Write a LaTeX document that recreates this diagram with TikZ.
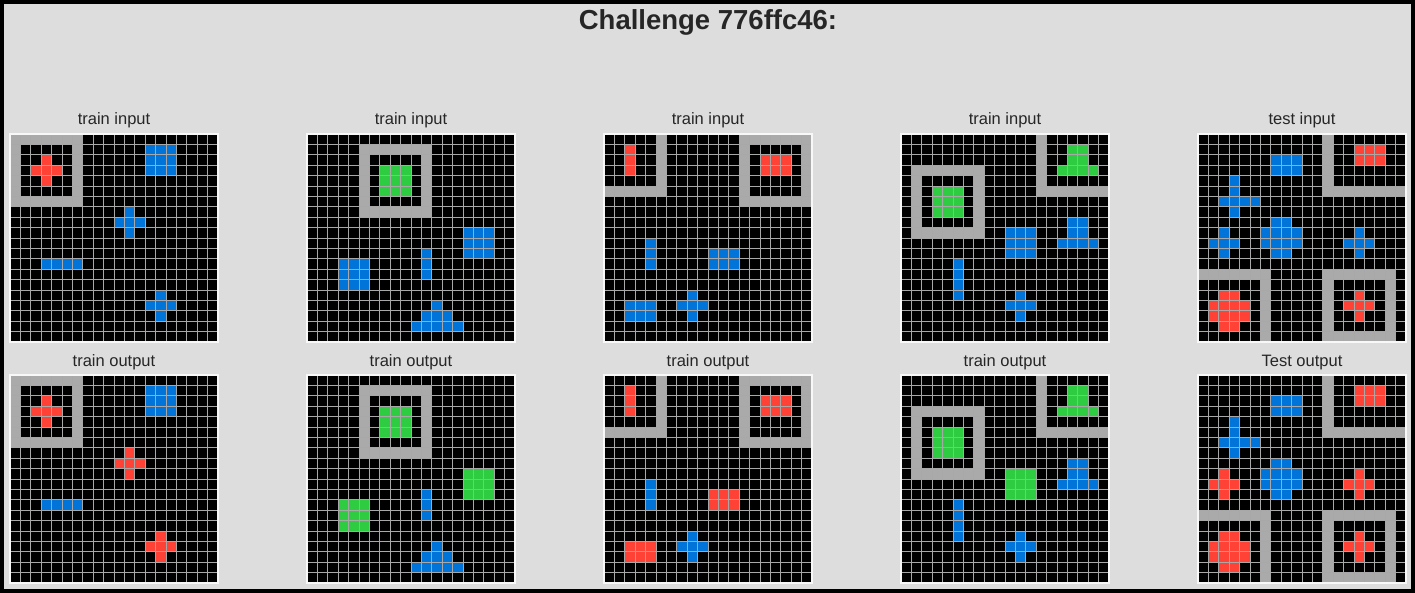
\documentclass[tikz,border=0pt]{standalone}
\usepackage{fontspec}
\setmainfont{Liberation Sans}
\definecolor{arcbg}{HTML}{DDDDDD}
\definecolor{arcred}{HTML}{FF4136}
\definecolor{arcblue}{HTML}{0074D9}
\definecolor{arcgreen}{HTML}{2ECC40}
\definecolor{arcgray}{HTML}{AAAAAA}
\definecolor{arcline}{HTML}{A8A8A8}
\definecolor{arctext}{HTML}{262626}
\newcommand\arcrect[5]{\fill[#1] ({(#3)*10.4},{(#2)*10.4}) rectangle ({(#5+1)*10.4},{(#4+1)*10.4});}
\newcommand\arcplus[3]{\arcrect{#1}{#2-1}{#3}{#2+1}{#3}\arcrect{#1}{#2}{#3-1}{#2}{#3+1}}
\newcommand\arcframe[4]{\arcrect{arcgray}{#1}{#2}{#1}{#4}\arcrect{arcgray}{#3}{#2}{#3}{#4}\arcrect{arcgray}{#1}{#2}{#3}{#2}\arcrect{arcgray}{#1}{#4}{#3}{#4}}
\newcommand\arcbase{\fill[black] (0,0) rectangle (208,208);}
\newcommand\arclines{\foreach \i in {0,...,20}{\draw[arcline,line width=0.9] ({\i*10.4},0) -- ({\i*10.4},208); \draw[arcline,line width=0.9] (0,{\i*10.4}) -- (208,{\i*10.4});}\draw[white!80!arcbg,line width=1.2] (0,0) rectangle (208,208);}
% grid contents, #1 = colour of changed shapes
\newcommand\gridA[1]{\arcframe{0}{0}{6}{6}\arcplus{arcred}{3}{3}\arcrect{arcblue}{1}{13}{3}{15}\arcplus{#1}{8}{11}\arcrect{arcblue}{12}{3}{12}{6}\arcplus{#1}{16}{14}}
\newcommand\gridB[1]{\arcframe{1}{5}{7}{11}\arcrect{arcgreen}{3}{7}{5}{9}\arcrect{#1}{9}{15}{11}{17}\arcrect{arcblue}{11}{11}{13}{11}\arcrect{#1}{12}{3}{14}{5}\arcrect{arcblue}{16}{12}{16}{12}\arcrect{arcblue}{17}{11}{17}{13}\arcrect{arcblue}{18}{10}{18}{14}}
\newcommand\gridC[1]{\arcrect{arcgray}{0}{5}{5}{5}\arcrect{arcgray}{5}{0}{5}{5}\arcrect{arcred}{1}{2}{3}{2}\arcframe{0}{13}{6}{19}\arcrect{arcred}{2}{15}{3}{17}\arcrect{arcblue}{10}{4}{12}{4}\arcrect{#1}{11}{10}{12}{12}\arcrect{#1}{16}{2}{17}{4}\arcplus{arcblue}{16}{8}}
\newcommand\gridD[1]{\arcrect{arcgray}{0}{13}{5}{13}\arcrect{arcgray}{5}{13}{5}{19}\arcrect{arcgreen}{1}{16}{2}{17}\arcrect{arcgreen}{3}{15}{3}{18}\arcframe{3}{1}{9}{7}\arcrect{arcgreen}{5}{3}{7}{5}\arcrect{arcblue}{8}{16}{9}{17}\arcrect{arcblue}{10}{15}{10}{18}\arcrect{#1}{9}{10}{11}{12}\arcrect{arcblue}{12}{5}{15}{5}\arcplus{arcblue}{16}{11}}
\newcommand\gridE[1]{\arcrect{arcgray}{0}{12}{5}{12}\arcrect{arcgray}{5}{12}{5}{19}\arcrect{arcred}{1}{15}{2}{17}\arcrect{arcblue}{2}{7}{3}{9}\arcrect{arcblue}{4}{3}{7}{3}\arcrect{arcblue}{6}{2}{6}{5}\arcplus{#1}{10}{2}\arcrect{arcblue}{8}{7}{8}{8}\arcrect{arcblue}{9}{6}{10}{9}\arcrect{arcblue}{11}{7}{11}{8}\arcplus{#1}{10}{15}\arcrect{arcgray}{13}{0}{13}{6}\arcrect{arcgray}{13}{6}{19}{6}\arcrect{arcred}{15}{2}{18}{3}\arcrect{arcred}{16}{1}{17}{4}\arcframe{13}{12}{19}{18}\arcplus{arcred}{16}{15}}
\tikzset{
  lbl/.style={text=arctext,font=\fontsize{16.5}{18}\selectfont,inner sep=0pt},
  ttl/.style={text=arctext,font=\fontsize{27.5}{30}\selectfont\bfseries,inner sep=0pt}
}
\begin{document}
\begin{tikzpicture}[x=1pt,y=-1pt]
\useasboundingbox (0,0) rectangle (1415,593);
\fill[arcbg] (0,0) rectangle (1415,593);
\draw[black,line width=4] (2,2) rectangle (1413,591);
\node[ttl] (title) at (708,22) {Challenge 776ffc46:};
% top row
\begin{scope}[shift={(10,134)}]\arcbase\gridA{arcblue}\arclines\end{scope}
\begin{scope}[shift={(307,134)}]\arcbase\gridB{arcblue}\arclines\end{scope}
\begin{scope}[shift={(604,134)}]\arcbase\gridC{arcblue}\arclines\end{scope}
\begin{scope}[shift={(901,134)}]\arcbase\gridD{arcblue}\arclines\end{scope}
\begin{scope}[shift={(1198,134)}]\arcbase\gridE{arcblue}\arclines\end{scope}
% bottom row
\begin{scope}[shift={(10,375)}]\arcbase\gridA{arcred}\arclines\end{scope}
\begin{scope}[shift={(307,375)}]\arcbase\gridB{arcgreen}\arclines\end{scope}
\begin{scope}[shift={(604,375)}]\arcbase\gridC{arcred}\arclines\end{scope}
\begin{scope}[shift={(901,375)}]\arcbase\gridD{arcgreen}\arclines\end{scope}
\begin{scope}[shift={(1198,375)}]\arcbase\gridE{arcred}\arclines\end{scope}
% labels
\node[lbl] (ti1) at (114,120.5) {train input};
\node[lbl] (ti2) at (411,120.5) {train input};
\node[lbl] (ti3) at (708,120.5) {train input};
\node[lbl] (ti4) at (1005,120.5) {train input};
\node[lbl] (te1) at (1302,120.5) {test input};
\node[lbl] (to1) at (114,362.5) {train output};
\node[lbl] (to2) at (411,362.5) {train output};
\node[lbl] (to3) at (708,362.5) {train output};
\node[lbl] (to4) at (1005,362.5) {train output};
\node[lbl] (te2) at (1302,362.5) {Test output};
\end{tikzpicture}
\end{document}
